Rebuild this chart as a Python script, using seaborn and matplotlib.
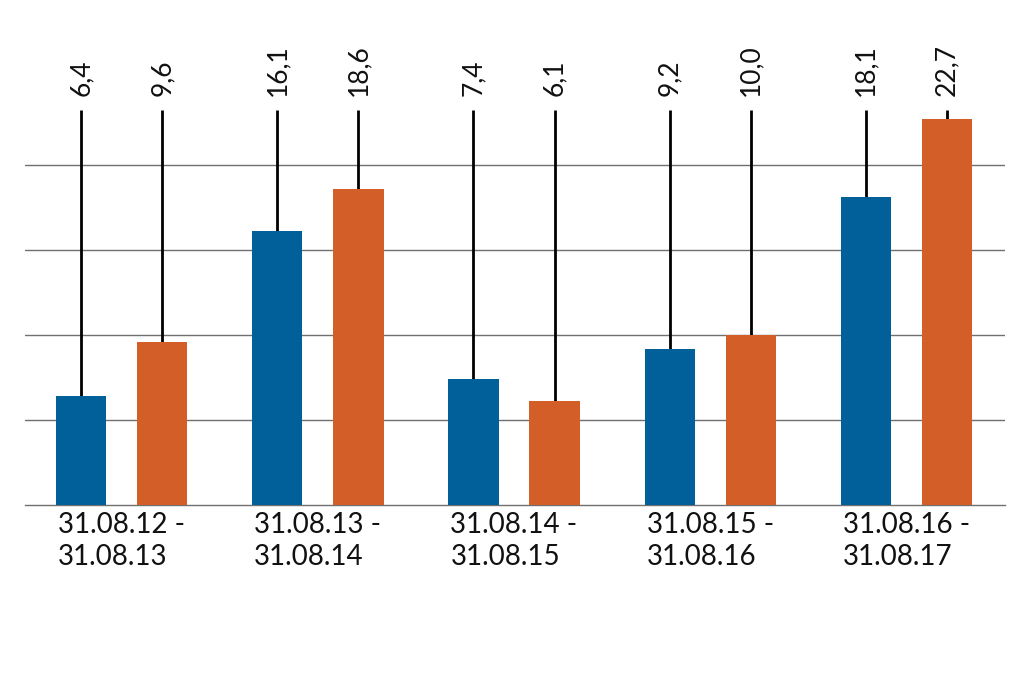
import matplotlib
matplotlib.use("Agg")
import matplotlib.pyplot as plt
import seaborn as sns
import pandas as pd

periods = ["31.08.12 -\n31.08.13", "31.08.13 -\n31.08.14", "31.08.14 -\n31.08.15",
           "31.08.15 -\n31.08.16", "31.08.16 -\n31.08.17"]
series_a = [6.4, 16.1, 7.4, 9.2, 18.1]
series_b = [9.6, 18.6, 6.1, 10.0, 22.7]
series_names = ["Serie A", "Serie B"]
colors = ["#01609a", "#d35e28"]

df = pd.DataFrame({
    "period": periods * 2,
    "value": series_a + series_b,
    "series": [series_names[0]] * len(periods) + [series_names[1]] * len(periods),
})

sns.set_style("white")
plt.rcParams["font.family"] = ["Lato", "DejaVu Sans"]

fig = plt.figure(figsize=(10.24, 6.83), dpi=100)
W, H = 1024, 683
left, right, bottom_px, top_px = 25, 1005, 505, 20
ax = fig.add_axes([left / W, 1 - bottom_px / H, (right - left) / W, (bottom_px - top_px) / H])

sns.barplot(data=df, x="period", y="value", hue="series", palette=colors,
            width=0.827, gap=0.38, dodge=True, ax=ax, legend=False, saturation=1,
            linewidth=0, zorder=3)

ymax = (bottom_px - top_px) / 17.0
ax.set_ylim(0, ymax)
ax.set_xlim(-0.492, 4.502)
ax.set_yticks([5, 10, 15, 20])
ax.set_yticklabels([])
ax.tick_params(axis="y", length=0)
ax.grid(axis="y", color="#707070", linewidth=1)
ax.set_axisbelow(True)
for s in ["left", "right", "top"]:
    ax.spines[s].set_visible(False)
ax.spines["bottom"].set_color("#707070")
ax.spines["bottom"].set_linewidth(1)
ax.set_xlabel("")
ax.set_ylabel("")
ax.tick_params(axis="x", length=0, pad=5, labelsize=20, colors="#111111")
for lab in ax.get_xticklabels():
    lab.set_multialignment("left")
    lab.set_linespacing(1.3)

line_top = (bottom_px - 110) / 17.0
text_y = (bottom_px - 96) / 17.0
for patch in ax.patches:
    h = patch.get_height()
    if h <= 0:
        continue
    x = patch.get_x() + patch.get_width() / 2
    ax.vlines(x, h, line_top, color="black", linewidth=2, zorder=2)
    ax.text(x, text_y, f"{h:.1f}".replace(".", ","), rotation=90, ha="center",
            va="bottom", fontsize=19, color="#111111", clip_on=False)

fig.savefig("out.png", dpi=100)
